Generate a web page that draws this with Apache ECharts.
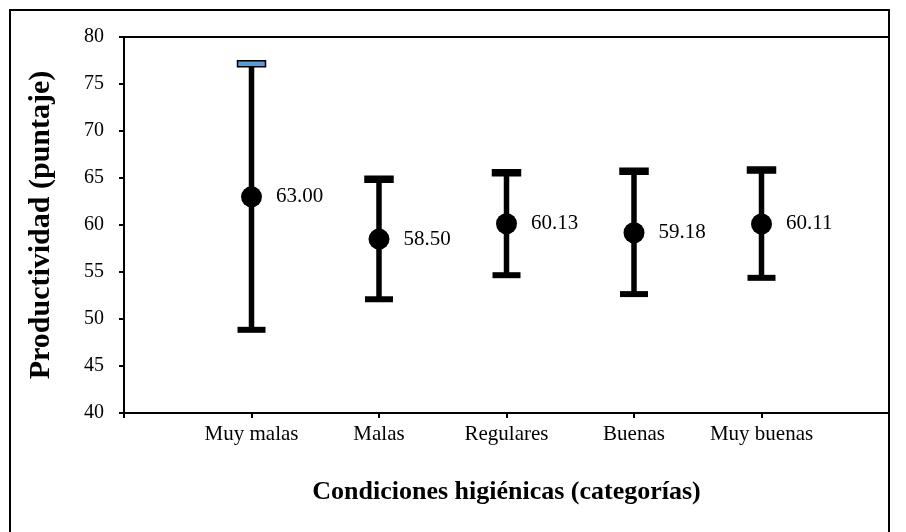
<!DOCTYPE html>
<html>
<head>
<meta charset="utf-8">
<style>
  html, body { margin: 0; padding: 0; background: #fff; }
  #chart { width: 906px; height: 532px; }
</style>
<script src="https://cdn.jsdelivr.net/npm/echarts@6/dist/echarts.min.js"></script>
</head>
<body>
<div id="chart"></div>
<script>
// Hygiene condition categories and productivity scores (mean with interval bounds)
const categories = ['Muy malas', 'Malas', 'Regulares', 'Buenas', 'Muy buenas'];
const means = [63.00, 58.50, 60.13, 59.18, 60.11];
const lower = [48.85, 52.10, 54.66, 52.65, 54.38];
const upper = [77.15, 64.88, 65.55, 65.71, 65.84];
const yTicks = { min: 40, max: 80, step: 5 };

const FONT = '"Liberation Serif", "Times New Roman", serif';

const chart = echarts.init(document.getElementById('chart'), null, { renderer: 'canvas' });

const barData = categories.map((c, i) => [i + 1, lower[i], upper[i]]);
const pointData = categories.map((c, i) => [i + 1, means[i]]);

chart.setOption({
  animation: false,
  backgroundColor: '#fff',
  grid: {
    left: 124, top: 37, right: 17, bottom: 119,
    show: true, borderColor: '#000', borderWidth: 2, backgroundColor: 'transparent'
  },
  graphic: [{
    type: 'rect',
    shape: { x: 10, y: 10, width: 879, height: 540 },
    style: { fill: 'none', stroke: '#000', lineWidth: 2 },
    silent: true
  }],
  xAxis: {
    type: 'value', min: 0, max: categories.length + 1, interval: 1,
    name: 'Condiciones higiénicas (categorías)',
    nameLocation: 'middle', nameGap: 66,
    nameTextStyle: { fontFamily: FONT, fontSize: 26, fontWeight: 'bold', color: '#000' },
    axisLine: { onZero: false, lineStyle: { color: '#000', width: 2 } },
    axisTick: { show: true, length: 5, lineStyle: { color: '#000', width: 2 } },
    axisLabel: {
      fontFamily: FONT, fontSize: 21, color: '#000', margin: 11,
      formatter: v => categories[v - 1] || ''
    },
    splitLine: { show: false }
  },
  yAxis: {
    type: 'value', min: yTicks.min, max: yTicks.max, interval: yTicks.step,
    name: 'Productividad (puntaje)',
    nameLocation: 'middle', nameGap: 68,
    nameTextStyle: { fontFamily: FONT, fontSize: 30, fontWeight: 'bold', color: '#000' },
    axisLine: { show: true, lineStyle: { color: '#000', width: 2 } },
    axisTick: { show: true, length: 5, lineStyle: { color: '#000', width: 2 } },
    axisLabel: { fontFamily: FONT, fontSize: 20, color: '#000', margin: 20 },
    splitLine: { show: false }
  },
  series: [
    {
      type: 'custom',
      data: barData,
      z: 2,
      renderItem: function (params, api) {
        const x = api.value(0);
        const lo = api.coord([x, api.value(1)]);
        const hi = api.coord([x, api.value(2)]);
        const capW = 28, capH = 6;
        const topFill = params.dataIndex === 0 ? '#5b9bd5' : '#000';
        return {
          type: 'group',
          children: [
            {
              type: 'line',
              shape: { x1: lo[0], y1: lo[1], x2: hi[0], y2: hi[1] },
              style: { stroke: '#000', lineWidth: 5.5 }
            },
            {
              type: 'rect',
              shape: { x: lo[0] - capW / 2, y: lo[1] - capH / 2, width: capW, height: capH },
              style: { fill: '#000' }
            },
            {
              type: 'rect',
              shape: { x: hi[0] - capW / 2, y: hi[1] - capH / 2, width: capW, height: capH },
              style: { fill: topFill, stroke: '#000', lineWidth: 1.5 }
            }
          ]
        };
      }
    },
    {
      type: 'scatter',
      data: pointData,
      z: 3,
      symbol: 'circle',
      symbolSize: 21,
      itemStyle: { color: '#000', opacity: 1 },
      label: {
        show: true, position: 'right', distance: 14,
        fontFamily: FONT, fontSize: 21, color: '#000', opacity: 1,
        formatter: p => p.value[1].toFixed(2)
      }
    }
  ]
});
</script>
</body>
</html>
